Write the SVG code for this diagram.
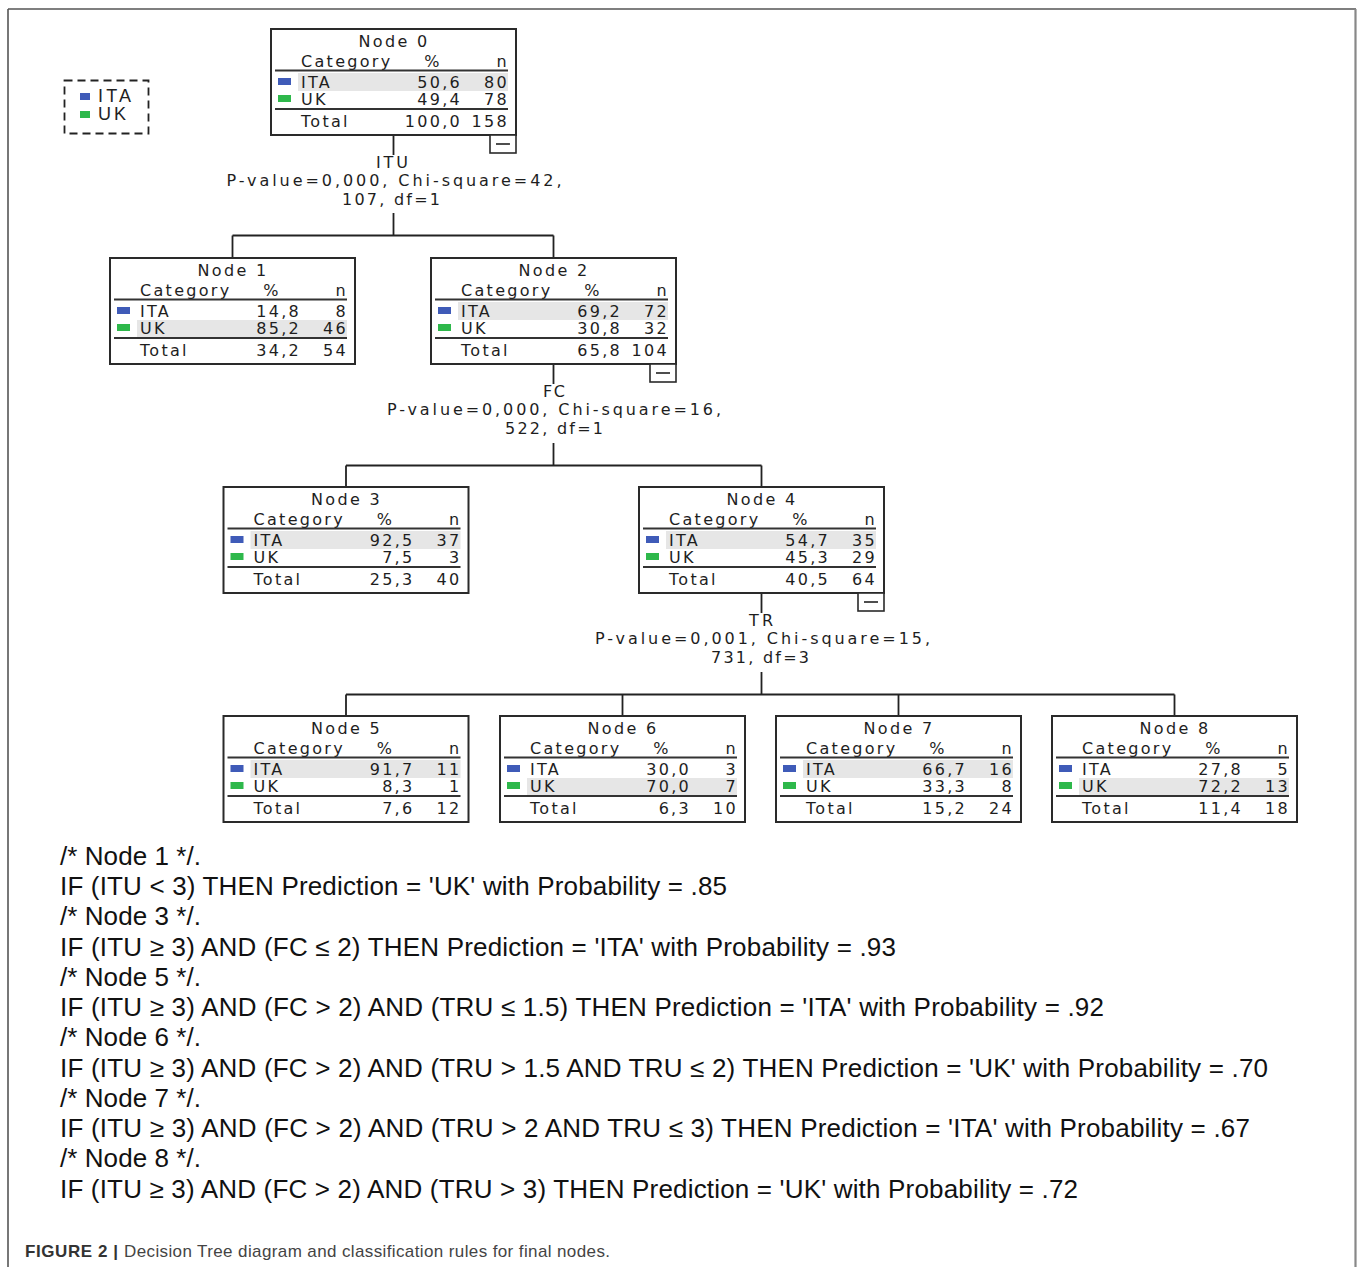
<svg xmlns="http://www.w3.org/2000/svg" width="1358" height="1267" viewBox="0 0 1358 1267">
<style>
.box{fill:#fff;stroke:#2a2a2a;stroke-width:2}
.hl{fill:#e6e6e6}
.t{font-family:"DejaVu Sans",sans-serif;font-size:16px;letter-spacing:2.3px;fill:#1e1e1e}
.mid{text-anchor:middle}
.end{text-anchor:end}
.rule{stroke:#333;stroke-width:2}
.ita{fill:#3f5bb8}
.uk{fill:#2eb84b}
.col{fill:#fff;stroke:#2a2a2a;stroke-width:1.6}
.conn{fill:none;stroke:#222;stroke-width:1.8}
.lbl{font-family:"DejaVu Sans",sans-serif;font-size:16px;fill:#1e1e1e;text-anchor:middle}
.r{font-family:"Liberation Sans",Arial,sans-serif;font-size:26px;fill:#111}
.frame{stroke:#555;stroke-width:1.6}
</style>
<rect width="1358" height="1267" fill="#fff"/>
<g id="frame">
<line class="frame" x1="8" y1="9" x2="1356" y2="9"/>
<line class="frame" x1="8" y1="9" x2="8" y2="1267"/>
<line x1="1355.5" y1="9" x2="1355.5" y2="1267" stroke="#888" stroke-width="2.2"/>
</g>
<g id="legend">
<rect x="64.5" y="80.5" width="84" height="53" fill="none" stroke="#222" stroke-width="1.8" stroke-dasharray="8,5"/>
<rect class="ita" x="80" y="93" width="10" height="7"/>
<rect class="uk" x="80" y="111" width="10" height="7"/>
<text x="98" y="102" font-family="Liberation Sans,Arial,sans-serif" font-size="18" fill="#222" textLength="33">ITA</text>
<text x="98" y="120" font-family="Liberation Sans,Arial,sans-serif" font-size="18" fill="#222" textLength="28">UK</text>
</g>
<g id="connectors">
<path class="conn" d="M393.5 135V155M393.5 213V235.5M232.5 235.5H553.5M232.5 235.5V258M553.5 235.5V258"/>
<path class="conn" d="M553.5 364V384M553.5 443V465.5M346 465.5H761.5M346 465.5V487M761.5 465.5V487"/>
<path class="conn" d="M761.5 593V613M761.5 672V694.5M346 694.5H1174.5M346 694.5V716M622.5 694.5V716M898.5 694.5V716M1174.5 694.5V716"/>
</g>
<g id="split0">
<text class="lbl" x="392" y="168" textLength="32">ITU</text>
<text class="lbl" x="394" y="186" textLength="335">P-value=0,000, Chi-square=42,</text>
<text class="lbl" x="391" y="205" textLength="98">107, df=1</text>
</g>
<g id="split2">
<text class="lbl" x="554" y="397" textLength="22">FC</text>
<text class="lbl" x="554" y="415" textLength="334">P-value=0,000, Chi-square=16,</text>
<text class="lbl" x="554" y="434" textLength="98">522, df=1</text>
</g>
<g id="split4">
<text class="lbl" x="761" y="626" textLength="24">TR</text>
<text class="lbl" x="762.5" y="644" textLength="335">P-value=0,001, Chi-square=15,</text>
<text class="lbl" x="760" y="663" textLength="98">731, df=3</text>
</g>
<g id="node0" transform="translate(271,29)">
<rect class="box" width="245" height="106"/>
<rect class="hl" x="27" y="44" width="210" height="18"/>
<text class="t mid" x="123" y="18">Node 0</text>
<text class="t" x="30" y="38">Category</text>
<text class="t mid" x="162" y="38">%</text>
<text class="t end" x="238" y="38">n</text>
<line class="rule" x1="4" y1="41.5" x2="237" y2="41.5"/>
<rect class="ita" x="7" y="49" width="13" height="7"/>
<text class="t" x="30" y="59">ITA</text>
<text class="t end" x="191" y="59">50,6</text>
<text class="t end" x="238" y="59">80</text>
<rect class="uk" x="7" y="66" width="13" height="7"/>
<text class="t" x="30" y="76">UK</text>
<text class="t end" x="191" y="76">49,4</text>
<text class="t end" x="238" y="76">78</text>
<line class="rule" x1="4" y1="80" x2="237" y2="80"/>
<text class="t" x="30" y="98">Total</text>
<text class="t end" x="191" y="98">100,0</text>
<text class="t end" x="238" y="98">158</text>
<rect class="col" x="219" y="106" width="26" height="18"/>
<line x1="225" y1="115" x2="239" y2="115" stroke="#222" stroke-width="1.6"/>
</g>
<g id="node1" transform="translate(110,258)">
<rect class="box" width="245" height="106"/>
<rect class="hl" x="27" y="62" width="210" height="17"/>
<text class="t mid" x="123" y="18">Node 1</text>
<text class="t" x="30" y="38">Category</text>
<text class="t mid" x="162" y="38">%</text>
<text class="t end" x="238" y="38">n</text>
<line class="rule" x1="4" y1="41.5" x2="237" y2="41.5"/>
<rect class="ita" x="7" y="49" width="13" height="7"/>
<text class="t" x="30" y="59">ITA</text>
<text class="t end" x="191" y="59">14,8</text>
<text class="t end" x="238" y="59">8</text>
<rect class="uk" x="7" y="66" width="13" height="7"/>
<text class="t" x="30" y="76">UK</text>
<text class="t end" x="191" y="76">85,2</text>
<text class="t end" x="238" y="76">46</text>
<line class="rule" x1="4" y1="80" x2="237" y2="80"/>
<text class="t" x="30" y="98">Total</text>
<text class="t end" x="191" y="98">34,2</text>
<text class="t end" x="238" y="98">54</text>
</g>
<g id="node2" transform="translate(431,258)">
<rect class="box" width="245" height="106"/>
<rect class="hl" x="27" y="44" width="210" height="18"/>
<text class="t mid" x="123" y="18">Node 2</text>
<text class="t" x="30" y="38">Category</text>
<text class="t mid" x="162" y="38">%</text>
<text class="t end" x="238" y="38">n</text>
<line class="rule" x1="4" y1="41.5" x2="237" y2="41.5"/>
<rect class="ita" x="7" y="49" width="13" height="7"/>
<text class="t" x="30" y="59">ITA</text>
<text class="t end" x="191" y="59">69,2</text>
<text class="t end" x="238" y="59">72</text>
<rect class="uk" x="7" y="66" width="13" height="7"/>
<text class="t" x="30" y="76">UK</text>
<text class="t end" x="191" y="76">30,8</text>
<text class="t end" x="238" y="76">32</text>
<line class="rule" x1="4" y1="80" x2="237" y2="80"/>
<text class="t" x="30" y="98">Total</text>
<text class="t end" x="191" y="98">65,8</text>
<text class="t end" x="238" y="98">104</text>
<rect class="col" x="219" y="106" width="26" height="18"/>
<line x1="225" y1="115" x2="239" y2="115" stroke="#222" stroke-width="1.6"/>
</g>
<g id="node3" transform="translate(223.5,487)">
<rect class="box" width="245" height="106"/>
<rect class="hl" x="27" y="44" width="210" height="18"/>
<text class="t mid" x="123" y="18">Node 3</text>
<text class="t" x="30" y="38">Category</text>
<text class="t mid" x="162" y="38">%</text>
<text class="t end" x="238" y="38">n</text>
<line class="rule" x1="4" y1="41.5" x2="237" y2="41.5"/>
<rect class="ita" x="7" y="49" width="13" height="7"/>
<text class="t" x="30" y="59">ITA</text>
<text class="t end" x="191" y="59">92,5</text>
<text class="t end" x="238" y="59">37</text>
<rect class="uk" x="7" y="66" width="13" height="7"/>
<text class="t" x="30" y="76">UK</text>
<text class="t end" x="191" y="76">7,5</text>
<text class="t end" x="238" y="76">3</text>
<line class="rule" x1="4" y1="80" x2="237" y2="80"/>
<text class="t" x="30" y="98">Total</text>
<text class="t end" x="191" y="98">25,3</text>
<text class="t end" x="238" y="98">40</text>
</g>
<g id="node4" transform="translate(639,487)">
<rect class="box" width="245" height="106"/>
<rect class="hl" x="27" y="44" width="210" height="18"/>
<text class="t mid" x="123" y="18">Node 4</text>
<text class="t" x="30" y="38">Category</text>
<text class="t mid" x="162" y="38">%</text>
<text class="t end" x="238" y="38">n</text>
<line class="rule" x1="4" y1="41.5" x2="237" y2="41.5"/>
<rect class="ita" x="7" y="49" width="13" height="7"/>
<text class="t" x="30" y="59">ITA</text>
<text class="t end" x="191" y="59">54,7</text>
<text class="t end" x="238" y="59">35</text>
<rect class="uk" x="7" y="66" width="13" height="7"/>
<text class="t" x="30" y="76">UK</text>
<text class="t end" x="191" y="76">45,3</text>
<text class="t end" x="238" y="76">29</text>
<line class="rule" x1="4" y1="80" x2="237" y2="80"/>
<text class="t" x="30" y="98">Total</text>
<text class="t end" x="191" y="98">40,5</text>
<text class="t end" x="238" y="98">64</text>
<rect class="col" x="219" y="106" width="26" height="18"/>
<line x1="225" y1="115" x2="239" y2="115" stroke="#222" stroke-width="1.6"/>
</g>
<g id="node5" transform="translate(223.5,716)">
<rect class="box" width="245" height="106"/>
<rect class="hl" x="27" y="44" width="210" height="18"/>
<text class="t mid" x="123" y="18">Node 5</text>
<text class="t" x="30" y="38">Category</text>
<text class="t mid" x="162" y="38">%</text>
<text class="t end" x="238" y="38">n</text>
<line class="rule" x1="4" y1="41.5" x2="237" y2="41.5"/>
<rect class="ita" x="7" y="49" width="13" height="7"/>
<text class="t" x="30" y="59">ITA</text>
<text class="t end" x="191" y="59">91,7</text>
<text class="t end" x="238" y="59">11</text>
<rect class="uk" x="7" y="66" width="13" height="7"/>
<text class="t" x="30" y="76">UK</text>
<text class="t end" x="191" y="76">8,3</text>
<text class="t end" x="238" y="76">1</text>
<line class="rule" x1="4" y1="80" x2="237" y2="80"/>
<text class="t" x="30" y="98">Total</text>
<text class="t end" x="191" y="98">7,6</text>
<text class="t end" x="238" y="98">12</text>
</g>
<g id="node6" transform="translate(500,716)">
<rect class="box" width="245" height="106"/>
<rect class="hl" x="27" y="62" width="210" height="17"/>
<text class="t mid" x="123" y="18">Node 6</text>
<text class="t" x="30" y="38">Category</text>
<text class="t mid" x="162" y="38">%</text>
<text class="t end" x="238" y="38">n</text>
<line class="rule" x1="4" y1="41.5" x2="237" y2="41.5"/>
<rect class="ita" x="7" y="49" width="13" height="7"/>
<text class="t" x="30" y="59">ITA</text>
<text class="t end" x="191" y="59">30,0</text>
<text class="t end" x="238" y="59">3</text>
<rect class="uk" x="7" y="66" width="13" height="7"/>
<text class="t" x="30" y="76">UK</text>
<text class="t end" x="191" y="76">70,0</text>
<text class="t end" x="238" y="76">7</text>
<line class="rule" x1="4" y1="80" x2="237" y2="80"/>
<text class="t" x="30" y="98">Total</text>
<text class="t end" x="191" y="98">6,3</text>
<text class="t end" x="238" y="98">10</text>
</g>
<g id="node7" transform="translate(776,716)">
<rect class="box" width="245" height="106"/>
<rect class="hl" x="27" y="44" width="210" height="18"/>
<text class="t mid" x="123" y="18">Node 7</text>
<text class="t" x="30" y="38">Category</text>
<text class="t mid" x="162" y="38">%</text>
<text class="t end" x="238" y="38">n</text>
<line class="rule" x1="4" y1="41.5" x2="237" y2="41.5"/>
<rect class="ita" x="7" y="49" width="13" height="7"/>
<text class="t" x="30" y="59">ITA</text>
<text class="t end" x="191" y="59">66,7</text>
<text class="t end" x="238" y="59">16</text>
<rect class="uk" x="7" y="66" width="13" height="7"/>
<text class="t" x="30" y="76">UK</text>
<text class="t end" x="191" y="76">33,3</text>
<text class="t end" x="238" y="76">8</text>
<line class="rule" x1="4" y1="80" x2="237" y2="80"/>
<text class="t" x="30" y="98">Total</text>
<text class="t end" x="191" y="98">15,2</text>
<text class="t end" x="238" y="98">24</text>
</g>
<g id="node8" transform="translate(1052,716)">
<rect class="box" width="245" height="106"/>
<rect class="hl" x="27" y="62" width="210" height="17"/>
<text class="t mid" x="123" y="18">Node 8</text>
<text class="t" x="30" y="38">Category</text>
<text class="t mid" x="162" y="38">%</text>
<text class="t end" x="238" y="38">n</text>
<line class="rule" x1="4" y1="41.5" x2="237" y2="41.5"/>
<rect class="ita" x="7" y="49" width="13" height="7"/>
<text class="t" x="30" y="59">ITA</text>
<text class="t end" x="191" y="59">27,8</text>
<text class="t end" x="238" y="59">5</text>
<rect class="uk" x="7" y="66" width="13" height="7"/>
<text class="t" x="30" y="76">UK</text>
<text class="t end" x="191" y="76">72,2</text>
<text class="t end" x="238" y="76">13</text>
<line class="rule" x1="4" y1="80" x2="237" y2="80"/>
<text class="t" x="30" y="98">Total</text>
<text class="t end" x="191" y="98">11,4</text>
<text class="t end" x="238" y="98">18</text>
</g>
<g id="rules">
<text class="r" x="60" y="865" textLength="141">/* Node 1 */.</text>
<text class="r" x="60" y="895" textLength="667">IF (ITU &lt; 3) THEN Prediction = 'UK' with Probability = .85</text>
<text class="r" x="60" y="925" textLength="141">/* Node 3 */.</text>
<text class="r" x="60" y="956" textLength="836">IF (ITU ≥ 3) AND (FC ≤ 2) THEN Prediction = 'ITA' with Probability = .93</text>
<text class="r" x="60" y="986" textLength="141">/* Node 5 */.</text>
<text class="r" x="60" y="1016" textLength="1044">IF (ITU ≥ 3) AND (FC &gt; 2) AND (TRU ≤ 1.5) THEN Prediction = 'ITA' with Probability = .92</text>
<text class="r" x="60" y="1046" textLength="141">/* Node 6 */.</text>
<text class="r" x="60" y="1077" textLength="1208">IF (ITU ≥ 3) AND (FC &gt; 2) AND (TRU &gt; 1.5 AND TRU ≤ 2) THEN Prediction = 'UK' with Probability = .70</text>
<text class="r" x="60" y="1107" textLength="141">/* Node 7 */.</text>
<text class="r" x="60" y="1137" textLength="1190">IF (ITU ≥ 3) AND (FC &gt; 2) AND (TRU &gt; 2 AND TRU ≤ 3) THEN Prediction = 'ITA' with Probability = .67</text>
<text class="r" x="60" y="1167" textLength="141">/* Node 8 */.</text>
<text class="r" x="60" y="1198" textLength="1018">IF (ITU ≥ 3) AND (FC &gt; 2) AND (TRU &gt; 3) THEN Prediction = 'UK' with Probability = .72</text>
</g>
<g id="caption">
<text x="25" y="1257" font-family="Liberation Sans,Arial,sans-serif" font-size="17" font-weight="bold" fill="#333" textLength="93">FIGURE 2 |</text>
<text x="124" y="1257" font-family="Liberation Sans,Arial,sans-serif" font-size="17" fill="#444" textLength="486">Decision Tree diagram and classification rules for final nodes.</text>
</g>
</svg>
